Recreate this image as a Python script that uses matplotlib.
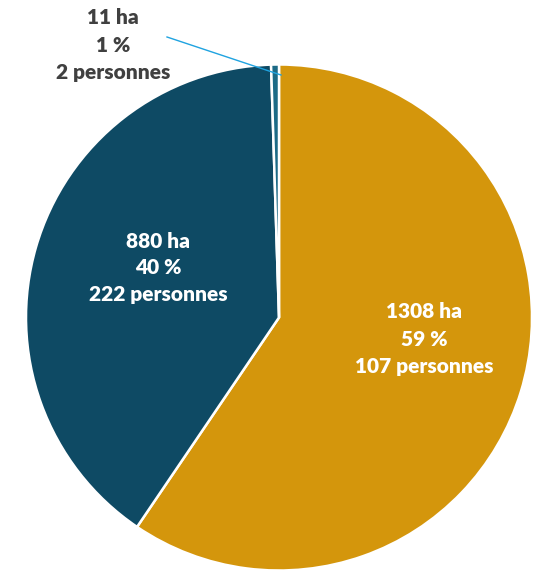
import matplotlib
matplotlib.use("Agg")
import matplotlib.pyplot as plt

# Surface (ha), share and number of owners for each group
surfaces_ha = [1308, 880, 11]
parts_pct = [59, 40, 1]
personnes = [107, 222, 2]
couleurs = ["#D4960C", "#0E4A64", "#1C6A86"]

W, H, DPI = 542, 576, 100
CX, CY, R = 279, 317.5, 253  # pie centre and radius in pixels

fig = plt.figure(figsize=(W / DPI, H / DPI), dpi=DPI)
ax = fig.add_axes([0, 0, 1, 1])

ax.pie(surfaces_ha, colors=couleurs, startangle=90, counterclock=False,
       radius=1.0, wedgeprops=dict(edgecolor="white", linewidth=1.8))

ax.set_xlim(-CX / R, (W - CX) / R)
ax.set_ylim(-(H - CY) / R, CY / R)
ax.set_aspect("equal")
ax.axis("off")


def px(x, y):
    return ((x - CX) / R, (CY - y) / R)


def etiquette(i):
    return f"{surfaces_ha[i]} ha\n{parts_pct[i]} %\n{personnes[i]} personnes"


font = dict(family=["Lato", "DejaVu Sans"], fontsize=15, fontweight="heavy",
            ha="center", va="center", linespacing=1.5)

ax.text(*px(424, 339), etiquette(0), color="white", **font)
ax.text(*px(158, 268), etiquette(1), color="white", **font)
ax.text(*px(113, 45), etiquette(2), color="#404040", **font)

# leader line for the smallest slice
x0, y0 = px(167, 37)
x1, y1 = px(281, 75)
ax.plot([x0, x1], [y0, y1], color="#1FA3E0", linewidth=1.0)

fig.savefig("out.png", dpi=DPI)
